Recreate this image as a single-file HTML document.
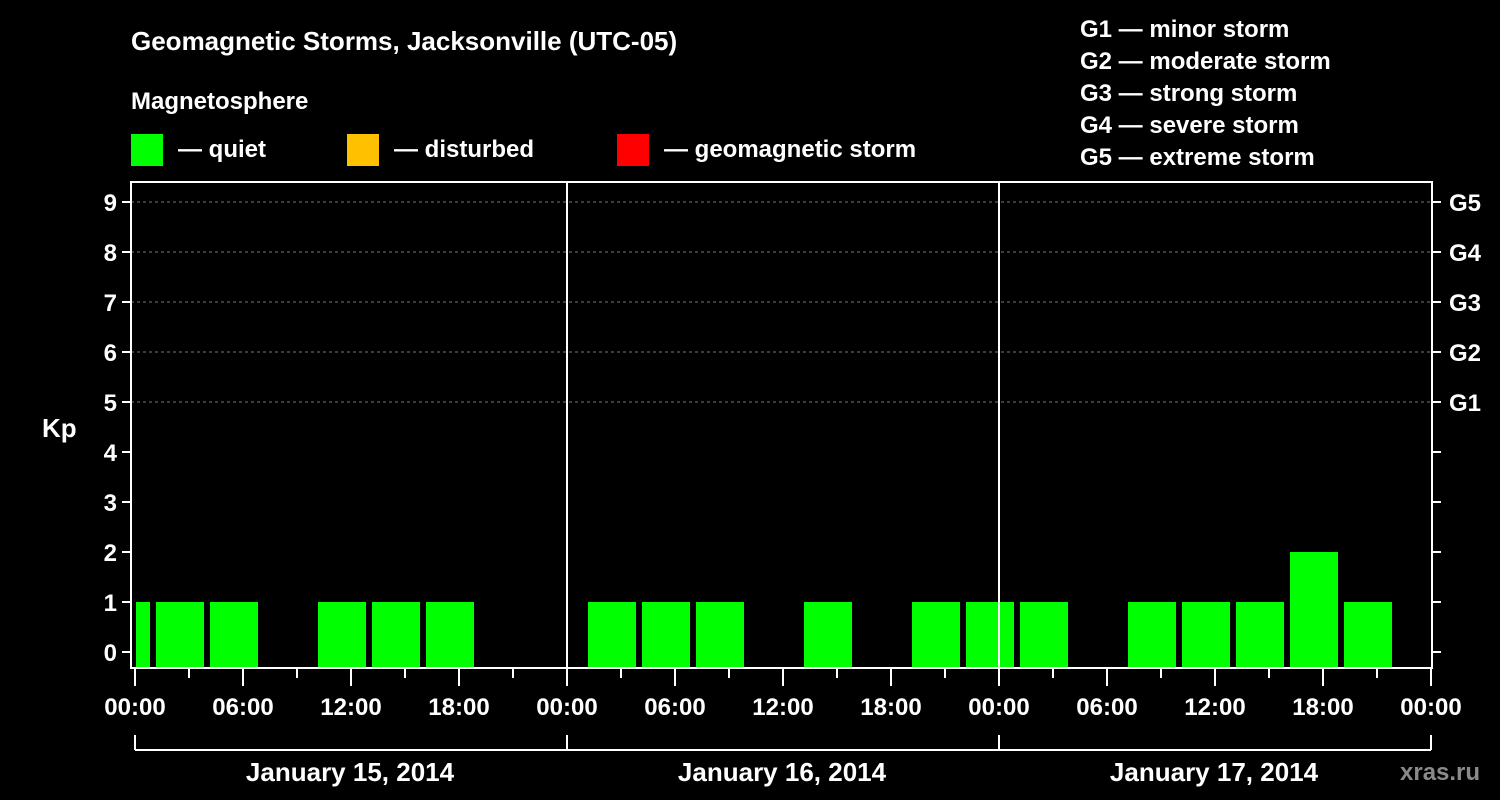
<!DOCTYPE html>
<html><head><meta charset="utf-8"><style>
html,body{margin:0;padding:0;background:#000;width:1500px;height:800px;overflow:hidden}
svg text{font-family:"Liberation Sans",Arial,sans-serif;font-weight:bold;fill:#fff}
</style></head><body>
<svg id="chart" width="1500" height="800" xmlns="http://www.w3.org/2000/svg">
<text x="131" y="50" font-size="26">Geomagnetic Storms, Jacksonville (UTC-05)</text>
<text x="131" y="109" font-size="24">Magnetosphere</text>
<rect x="131" y="134" width="32" height="32" fill="#00ff00"/>
<text x="178" y="157" font-size="24">— quiet</text>
<rect x="347" y="134" width="32" height="32" fill="#ffc000"/>
<text x="394" y="157" font-size="24">— disturbed</text>
<rect x="617" y="134" width="32" height="32" fill="#ff0000"/>
<text x="664" y="157" font-size="24">— geomagnetic storm</text>
<g font-size="24">
<text x="1080" y="37">G1 — minor storm</text>
<text x="1080" y="69">G2 — moderate storm</text>
<text x="1080" y="101">G3 — strong storm</text>
<text x="1080" y="133">G4 — severe storm</text>
<text x="1080" y="165">G5 — extreme storm</text>
</g>
<text x="42" y="437" font-size="26">Kp</text>
<text x="1400" y="780" font-size="24" fill="#888" style="fill:#8a8a8a">xras.ru</text>
<g id="plot"></g>
</svg>
<script>
const kpValues = [1,1,1,null,1,1,1,null,null,1,1,1,null,1,null,1,1,1,null,1,1,1,2,1,null];
const slotStartHours = -0.5;
const yTicks = [0,1,2,3,4,5,6,7,8,9];
const gLabels = ["G1","G2","G3","G4","G5"];
const gLevels = [5,6,7,8,9];
const xTickLabels = ["00:00","06:00","12:00","18:00","00:00","06:00","12:00","18:00","00:00","06:00","12:00","18:00","00:00"];
const dayLabels = ["January 15, 2014","January 16, 2014","January 17, 2014"];

const NS="http://www.w3.org/2000/svg";
const L=131,R=1432,T=182,B=668,X0=135,PXH=18;
const xs=h=>X0+h*PXH;
const ys=v=>652-v*50;
const g=document.getElementById('plot');
function mk(tag,attrs,txt){const e=document.createElementNS(NS,tag);for(const k in attrs)e.setAttribute(k,attrs[k]);if(txt!==undefined)e.textContent=txt;g.appendChild(e);return e;}

// gridlines
gLevels.forEach(v=>{
  const e=mk('line',{x1:L,x2:R,y1:ys(v),y2:ys(v),stroke:'#777','stroke-dasharray':'3,3','stroke-width':1});
  
  
});
// bars
kpValues.forEach((v,i)=>{
  if(v===null)return;
  const c=slotStartHours+3*i;
  let x1=xs(c)-24,x2=xs(c)+24;
  x1=Math.max(x1,L+5);x2=Math.min(x2,R-2);
  const col=v>=5?'#ff0000':(v>=4?'#ffc000':'#00ff00');
  const e=mk('rect',{x:x1,y:ys(v),width:x2-x1,height:B-ys(v),fill:col});
  
  
});
// day separators
[1,2].forEach(d=>{
  const e=mk('line',{x1:xs(24*d),x2:xs(24*d),y1:T,y2:B,stroke:'#fff','stroke-width':2});
  
  
});
// frame
const fr=mk('rect',{x:L,y:T,width:R-L,height:B-T,fill:'none',stroke:'#fff','stroke-width':2});


// y ticks
yTicks.forEach(v=>{
  mk('line',{x1:L-9,x2:L,y1:ys(v),y2:ys(v),stroke:'#fff','stroke-width':2});
  mk('line',{x1:R,x2:R+9,y1:ys(v),y2:ys(v),stroke:'#fff','stroke-width':2});
  const t=mk('text',{x:L-14,y:ys(v)+9,'font-size':24,'text-anchor':'end'},String(v));
  
  
});
gLabels.forEach((s,i)=>{
  const t=mk('text',{x:1449,y:ys(gLevels[i])+9,'font-size':24},s);
  
  
});
// x ticks
for(let h=0;h<=72;h+=3){
  const major=h%6===0;
  mk('line',{x1:xs(h),x2:xs(h),y1:B,y2:B+(major?18:10),stroke:'#fff','stroke-width':2});
}
xTickLabels.forEach((s,i)=>{
  const t=mk('text',{x:xs(i*6),y:715,'font-size':24,'text-anchor':'middle'},s);
  
  
});
// day brackets
mk('line',{x1:xs(0),x2:xs(72),y1:750,y2:750,stroke:'#fff','stroke-width':2});
for(let d=0;d<=3;d++)mk('line',{x1:xs(24*d),x2:xs(24*d),y1:735,y2:750,stroke:'#fff','stroke-width':2});
dayLabels.forEach((s,i)=>{
  const t=mk('text',{x:xs(24*i+12)-1,y:781,'font-size':26,'text-anchor':'middle'},s);
  
  
});
</script>
</body></html>
